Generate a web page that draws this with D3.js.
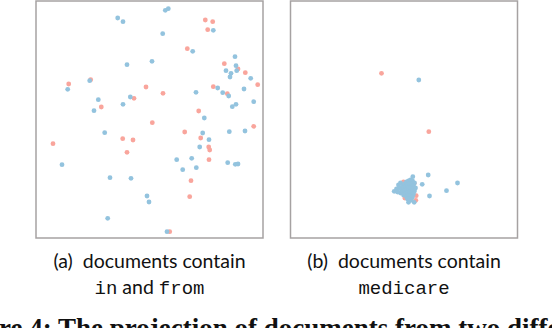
<!DOCTYPE html>
<html>
<head>
<meta charset="utf-8">
<script src="https://cdn.jsdelivr.net/npm/d3@7"></script>
<style>
  body { margin: 0; background: #fff; }
  svg { display: block; }
</style>
</head>
<body>
<div id="chart"></div>
<script>

// projection coordinates, panel (a): in and from
var aBlue = [[81.7,220],[87,216.3],[91,173.3],[116,176.7],[31.7,148.7],[53.7,157.3],[62.3,138.3],[94.3,141],
  [58,127.3],[87,133.7],[129.3,227.7],[132.3,229.3],[177.3,207.7],[126.7,204.3],[156.7,186.7],[199,181.3],
  [200,172.3],[190,167.3],[200.7,167.3],[195,164.7],[194,161],[214.7,159.7],[181.7,150],[208,149],
  [186.7,145.3],[192.7,142],[160,145.7],[217.7,136.3],[200,133.7],[196.3,131.3],[168.3,120],[68.7,105.3],
  [26,73.3],[74,60.3],[95,59.7],[111,42],[113,36],[71.7,19.7],[166.7,105],[193.3,106.3],[209,107],
  [173,98.3],[163.7,91],[140.7,78.3],[155.7,79.7],[191.7,75.3],[199.3,73.7],[202,74],[146.7,68.3],
  [160.3,70.3],[131,6.3]];
var aRed = [[32.7,154],[54.7,158.3],[110,151],[98,139.7],[65.3,131],[169.3,218],[176.7,216.3],[171.7,208.3],
  [151.3,189.3],[188.3,174.3],[202,169],[209.3,165.3],[221.7,153.3],[177.3,151.3],[191.3,144.3],[127,144.7],
  [162.7,127],[116.3,115.3],[86.7,99.3],[97,98],[17,94.3],[91,85.7],[148.7,106],[217.7,111.7],[164.7,100],
  [172.7,91],[173.7,88],[173,78.3],[155,57.3],[153.7,41.3],[133.7,6.3]];

// panel (b): medicare
var bBlue = [[128.3,158],[122.3,61.3],[137.7,63],[131.7,53.7],[167,55],[103.7,46.7],[156,47.3],[139,42],
  [118,35.7],[123.7,35.7],
  [108,53],[110,55],[112,52],[114,54],[116,56],[118,57],[120,58],[122,57],[124,55],[109,50],[111,48],
  [113,50],[115,51],[117,53],[119,54],[121,54],[123,52],[125,50],[110,45],[112,46],[114,47],[116,48],
  [118,50],[120,50],[122,49],[124,47],[113,43],[115,44],[117,45],[119,46],[121,45],[123,44],[116,41],
  [118,42],[120,42],[122,41],[117,39],[119,39],[121,38],[106,49],[107,46]];
var bRed = [[91,164.7],[138.3,106.3],[114.3,40],[125.7,42.3],[125.3,37.7],[113,56],[123.7,54.7]];

var panelDomainX = [0, 227],
    panelDomainY = [0, 237];

var blue = "#93c3de",
    red = "#f9a59c";

var width = 552, height = 328;

var svg = d3.select("#chart").append("svg")
    .attr("width", width)
    .attr("height", height);

function drawPanel(left, top, w, h, blues, reds)
{
  var x = d3.scaleLinear().domain(panelDomainX).range([0, w]);
  var y = d3.scaleLinear().domain(panelDomainY).range([h, 0]);

  var g = svg.append("g")
      .attr("transform", "translate(" + left + "," + top + ")");

  g.append("rect")
      .attr("width", w)
      .attr("height", h)
      .style("fill", "none")
      .style("stroke", "#a6a2a2")
      .style("stroke-width", 1.5);

  g.selectAll(".red")
      .data(reds)
    .enter().append("circle")
      .attr("class", "red")
      .attr("cx", function(d) { return x(d[0]); })
      .attr("cy", function(d) { return y(d[1]); })
      .attr("r", 2.4)
      .style("fill", red);

  g.selectAll(".blue")
      .data(blues)
    .enter().append("circle")
      .attr("class", "blue")
      .attr("cx", function(d) { return x(d[0]); })
      .attr("cy", function(d) { return y(d[1]); })
      .attr("r", 2.4)
      .style("fill", blue);
}

drawPanel(36, 1, 227, 237, aBlue, aRed);
drawPanel(290.5, 1, 227, 237, bBlue, bRed);

var sans = "Lato, 'Open Sans', sans-serif",
    mono = "'Liberation Mono', monospace";

// captions
function caption(cx, label, line2)
{
  svg.append("text")
      .attr("x", cx)
      .attr("y", 268)
      .style("text-anchor", "middle")
      .style("font-family", sans)
      .style("font-size", "19.5px")
      .style("fill", "#111")
      .attr("xml:space", "preserve")
      .text(label + "  documents contain");

  var t = svg.append("text")
      .attr("x", cx)
      .attr("y", 294)
      .style("text-anchor", "middle")
      .style("fill", "#111");

  line2.forEach(function(p) {
    t.append("tspan")
        .style("font-family", p.mono ? mono : sans)
        .style("font-size", p.mono ? "19px" : "19.5px")
        .text(p.text);
  });
}

caption(149.5, "(a)", [{text: "in", mono: true}, {text: " and ", mono: false}, {text: "from", mono: true}]);
caption(404, "(b)", [{text: "medicare", mono: true}]);

// figure title, cut off by the page edge
var title = svg.append("text")
    .attr("y", 337)
    .style("font-family", "'Liberation Serif', serif")
    .style("font-weight", "bold")
    .style("font-size", "27px")
    .style("fill", "#111")
    .text("Figure 4: The projection of documents from two different queries");

var probe = svg.append("text")
    .style("font-family", "'Liberation Serif', serif")
    .style("font-weight", "bold")
    .style("font-size", "27px")
    .text("Figu");
var off = probe.node().getComputedTextLength();
probe.remove();
title.attr("x", -off - 1);

</script>
</body>
</html>
